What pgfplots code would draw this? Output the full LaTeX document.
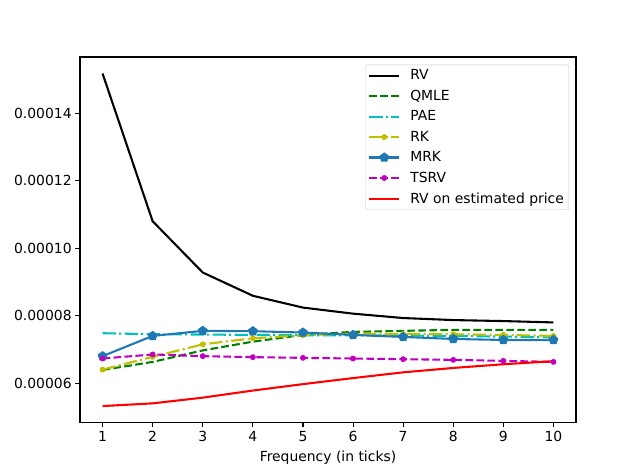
\documentclass[border=0pt]{standalone}
\usepackage{pgfplots}
\pgfplotsset{compat=1.18}
\usepackage{fontspec}
\setmainfont{DejaVu Sans}
\definecolor{mplblue}{RGB}{31,119,180}
\definecolor{mply}{RGB}{191,191,0}
\definecolor{mplm}{RGB}{191,0,191}
\definecolor{mplc}{RGB}{0,191,191}
\definecolor{mplg}{RGB}{0,128,0}
\definecolor{mplr}{RGB}{255,0,0}
\begin{document}
\begin{tikzpicture}[x=1bp,y=1bp]
\useasboundingbox (0,0) rectangle (640,474);
\begin{axis}[
  at={(80bp,51.4bp)}, anchor=south west,
  width=496bp, height=365.6bp, scale only axis,
  xmin=0.55, xmax=10.45, ymin=4.83e-5, ymax=1.567e-4,
  xtick={1,2,3,4,5,6,7,8,9,10},
  ytick={6e-5,8e-5,1e-4,1.2e-4,1.4e-4},
  scaled y ticks=false,
  yticklabel style={/pgf/number format/.cd, fixed, fixed zerofill, precision=5, assume math mode=true},
  xticklabel style={/pgf/number format/assume math mode=true},
  tick align=outside, xtick pos=bottom, ytick pos=left,
  major tick length=4.86bp,
  every tick/.style={black, line width=1.1bp},
  axis line style={line width=1.1bp},
  tick label style={font=\fontsize{13.9bp}{16bp}\selectfont},
  label style={font=\fontsize{13.9bp}{16bp}\selectfont},
  xlabel={Frequency (in ticks)},
  xlabel style={yshift=-3bp},
  legend cell align=left,
  legend style={at={(0.986,0.979)}, anchor=north east, draw={rgb,255:red,204;green,204;blue,204},
    rounded corners=2.5bp, font=\fontsize{13.9bp}{16bp}\selectfont, row sep=4.8bp,
    inner xsep=3bp, inner ysep=3bp,
    /tikz/every odd column/.append style={column sep=8bp}},
  legend image code/.code={%
    \draw[#1, mark=none] (0bp,0bp) -- (30bp,0bp);
    \draw[#1, only marks] plot coordinates {(15bp,0bp)};},
  every axis plot/.append style={line width=2.08bp},
]
\addplot[black, solid] coordinates {(1,1.518e-4) (2,1.080e-4) (3,9.28e-5) (4,8.59e-5) (5,8.24e-5) (6,8.06e-5) (7,7.93e-5) (8,7.87e-5) (9,7.84e-5) (10,7.80e-5)};
\addlegendentry{RV}
\addplot[mplg, dash pattern=on 7.7bp off 3.3bp] coordinates {(1,6.39e-5) (2,6.63e-5) (3,6.97e-5) (4,7.23e-5) (5,7.43e-5) (6,7.52e-5) (7,7.55e-5) (8,7.58e-5) (9,7.58e-5) (10,7.58e-5)};
\addlegendentry{QMLE}
\addplot[mplc, dash pattern=on 13.3bp off 3.3bp on 2.1bp off 3.3bp] coordinates {(1,7.48e-5) (2,7.45e-5) (3,7.44e-5) (4,7.43e-5) (5,7.42e-5) (6,7.42e-5) (7,7.41e-5) (8,7.40e-5) (9,7.38e-5) (10,7.36e-5)};
\addlegendentry{PAE}
\addplot[mply, dash pattern=on 13.3bp off 3.3bp on 2.1bp off 3.3bp, mark=*, mark size=2.4bp, mark options={solid, line width=1bp}] coordinates {(1,6.40e-5) (2,6.78e-5) (3,7.15e-5) (4,7.33e-5) (5,7.42e-5) (6,7.47e-5) (7,7.46e-5) (8,7.45e-5) (9,7.43e-5) (10,7.40e-5)};
\addlegendentry{RK}
\addplot[mplblue, solid, mark=pentagon*, mark size=4.5bp, mark options={line width=1bp}] coordinates {(1,6.80e-5) (2,7.40e-5) (3,7.55e-5) (4,7.54e-5) (5,7.50e-5) (6,7.43e-5) (7,7.37e-5) (8,7.31e-5) (9,7.28e-5) (10,7.28e-5)};
\addlegendentry{MRK}
\addplot[mplm, dash pattern=on 7.7bp off 3.3bp, mark=*, mark size=2.4bp, mark options={solid, line width=1bp}] coordinates {(1,6.73e-5) (2,6.85e-5) (3,6.80e-5) (4,6.77e-5) (5,6.75e-5) (6,6.73e-5) (7,6.71e-5) (8,6.69e-5) (9,6.66e-5) (10,6.63e-5)};
\addlegendentry{TSRV}
\addplot[mplr, solid] coordinates {(1,5.32e-5) (2,5.40e-5) (3,5.57e-5) (4,5.78e-5) (5,5.97e-5) (6,6.15e-5) (7,6.32e-5) (8,6.45e-5) (9,6.56e-5) (10,6.65e-5)};
\addlegendentry{RV on estimated price}
\end{axis}
\end{tikzpicture}
\end{document}
